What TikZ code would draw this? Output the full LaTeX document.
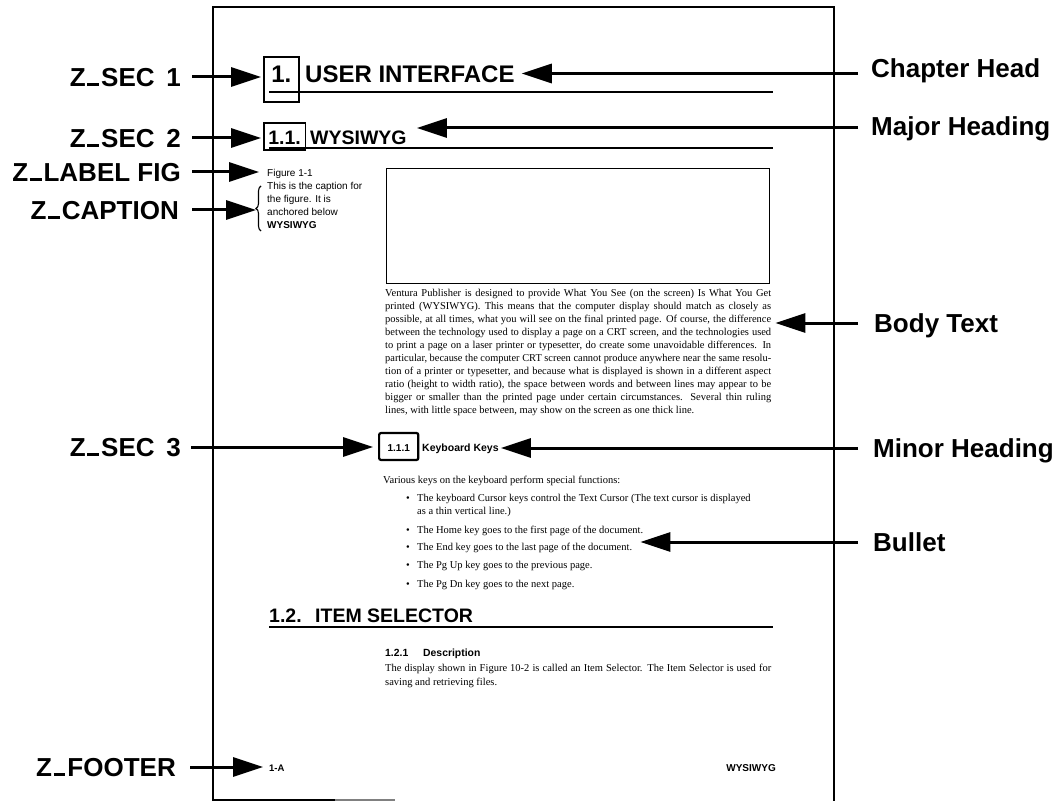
\documentclass[tikz,border=0pt]{standalone}
\usepackage{fontspec}
\usepackage{graphicx}
\setmainfont{Liberation Serif}
\newfontfamily\hv{Liberation Sans}
\usetikzlibrary{arrows.meta,decorations.pathreplacing}

% font size in points with matching leading
\newcommand\fsz[1]{\fontsize{#1pt}{#1pt}\selectfont}
% low dash used in the tag names
\newcommand\zus{\kern0.06em\rule{0.45em}{0.11em}\kern0.08em}
% justified line of fixed width; squeezed if too long
\newcommand\fitline[2][386pt]{\setbox0\hbox{#2}%
  \ifdim\wd0>#1\relax\resizebox{#1}{\height}{\box0}\else\makebox[#1][s]{#2}\fi}

\tikzset{
  lbl/.style={font=\hv\bfseries\fsz{26}, inner sep=0pt, text height=18.6pt, text depth=0pt},
  callout/.style={line width=3pt, -{Triangle[length=30pt,width=19pt]}},
  rulel/.style={line width=2.4pt},
  frameline/.style={line width=2.2pt},
  hd/.style={inner sep=0pt, anchor=base west},
  numbox/.style={draw, line width=1.6pt, inner ysep=0pt, anchor=base west},
  bodytx/.style={font=\fsz{10.5}, inner sep=0pt, anchor=base west},
  captx/.style={font=\hv\fsz{10}, inner sep=0pt, anchor=base west},
}

\begin{document}
\begin{tikzpicture}[x=1pt,y=-1pt]
\useasboundingbox (0,0) rectangle (1060,802);
\fill[white] (0,0) rectangle (1060,802);

% page frame
\draw[frameline] (213,801) -- (213,7) -- (834,7) -- (834,801);
\draw[line width=1.8pt] (213,800) -- (335,800);
\draw[line width=1.4pt, gray] (335,800) -- (395,800);

% tag names on the left
\node[lbl, anchor=east] (lz1) at (181,77) {Z\zus SEC\hspace{0.45em}1};
\node[lbl, anchor=east] (lz2) at (181,138) {Z\zus SEC\hspace{0.45em}2};
\node[lbl, anchor=east] (lfig) at (181,172) {Z\zus LABEL FIG};
\node[lbl, anchor=east] (lcap) at (179,210) {Z\zus CAPTION};
\node[lbl, anchor=east] (lz3) at (181,447) {Z\zus SEC\hspace{0.45em}3};
\node[lbl, anchor=east] (lfoot) at (176,767) {Z\zus FOOTER};

% style names on the right
\node[lbl, anchor=west] (rch) at (871,68) {Chapter Head};
\node[lbl, anchor=west] (rmaj) at (871,126) {Major Heading};
\node[lbl, anchor=west] (rbody) at (874,323) {Body Text};
\node[lbl, anchor=west] (rmin) at (873,448) {Minor Heading};
\node[lbl, anchor=west] (rbul) at (873,542) {Bullet};

% chapter head
\node[numbox, font=\hv\bfseries\fsz{24}, inner xsep=7.5pt, text height=26pt, text depth=19pt] (n1) at (263,83) {1.};
\node[hd, font=\hv\bfseries\fsz{24}] (ui) at (305,83) {USER INTERFACE};
\draw[rulel] (269,92) -- (773,92);

% major heading
\node[numbox, font=\hv\bfseries\fsz{19.5}, inner xsep=4.5pt, text height=22pt, text depth=5pt] (n11) at (263,145) {1.1.};
\node[hd, font=\hv\bfseries\fsz{19.5}] (wys) at (310,145) {WYSIWYG};
\draw[rulel] (269,148) -- (773,148);

% figure label and caption
\node[captx] (figlab) at (267,177) {Figure 1-1};
\node[captx] (cap1) at (267,190) {This is the caption for};
\node[captx] (cap2) at (267,203) {the figure. It is};
\node[captx] (cap3) at (267,216) {anchored below};
\node[captx, font=\hv\bfseries\fsz{10}] (cap4) at (267,229) {WYSIWYG};
\draw[decorate, decoration={brace, amplitude=5pt}, line width=1.1pt] (261,231) -- (261,186);
\coordinate (bracetip) at (256,208);

% figure frame
\node[draw, line width=1.3pt, minimum width=383pt, minimum height=115pt, anchor=north west, inner sep=0pt] (fig) at (386,168) {};

% body text
\foreach \bline [count=\i] in {
  {Ventura Publisher is designed to provide What You See (on the screen) Is What You Get},
  {printed (WYSIWYG).  This means that the computer display should match as closely as},
  {possible, at all times, what you will see on the final printed page.  Of course, the difference},
  {between the technology used to display a page on a CRT screen, and the technologies used},
  {to print a page on a laser printer or typesetter, do create some unavoidable differences.  In},
  {particular, because the computer CRT screen cannot produce anywhere near the same resolu-},
  {tion of a printer or typesetter, and because what is displayed is shown in a different aspect},
  {ratio (height to width ratio), the space between words and between lines may appear to be},
  {bigger or smaller than the printed page under certain circumstances.  Several thin ruling}}
  \node[bodytx] (body\i) at (385,{296.5+13*(\i-1)}) {\fitline{\bline}};
\node[bodytx] (body10) at (385,413.5) {lines, with little space between, may show on the screen as one thick line.};

% minor heading
\node[numbox, line width=2.2pt, rounded corners=2pt, font=\hv\bfseries\fsz{10}, inner xsep=8.5pt, text height=18pt, text depth=9pt] (n111) at (378,451) {1.1.1};
\node[hd, font=\hv\bfseries\fsz{10.5}] (kk) at (422,451) {Keyboard Keys};

% list
\node[bodytx] (various) at (383,483) {Various keys on the keyboard perform special functions:};
\node[bodytx] (d1) at (406,501) {\textbullet};
\node[bodytx] (i1) at (417,501) {The keyboard Cursor keys control the Text Cursor (The text cursor is displayed};
\node[bodytx] (i1b) at (417,514) {as a thin vertical line.)};
\node[bodytx] (d2) at (406,533) {\textbullet};
\node[bodytx] (i2) at (417,533) {The Home key goes to the first page of the document.};
\node[bodytx] (d3) at (406,550) {\textbullet};
\node[bodytx] (i3) at (417,550) {The End key goes to the last page of the document.};
\node[bodytx] (d4) at (406,568) {\textbullet};
\node[bodytx] (i4) at (417,568) {The Pg Up key goes to the previous page.};
\node[bodytx] (d5) at (406,587) {\textbullet};
\node[bodytx] (i5) at (417,587) {The Pg Dn key goes to the next page.};

% second major heading
\node[hd, font=\hv\bfseries\fsz{19.5}] (n12) at (269,622) {1.2.};
\node[hd, font=\hv\bfseries\fsz{19.5}] (isel) at (315,622) {ITEM SELECTOR};
\draw[rulel] (269,627) -- (773,627);

\node[hd, font=\hv\bfseries\fsz{10.4}] (n121) at (385,656) {1.2.1};
\node[hd, font=\hv\bfseries\fsz{10.4}] (desc) at (423,656) {Description};
\node[bodytx] (disp1) at (385,671) {\fitline{The display shown in Figure 10-2 is called an Item Selector.  The Item Selector is used for}};
\node[bodytx] (disp2) at (385,685) {saving and retrieving files.};

% footer
\node[hd, font=\hv\bfseries\fsz{9.5}] (pgno) at (269,771) {1-A};
\node[hd, anchor=base east, font=\hv\bfseries\fsz{10}] (ftitle) at (776,771) {WYSIWYG};

% arrows from the tag names
\draw[callout, shorten >=2pt] ([xshift=11pt]lz1.east) -- (lz1.east -| n1.west);
\draw[callout, shorten >=2pt] ([xshift=11pt]lz2.east) -- (lz2.east -| n11.west);
\draw[callout, shorten >=8pt] ([xshift=11pt]lfig.east) -- (lfig.east -| figlab.west);
\draw[callout] ([xshift=13pt]lcap.east) -- (lcap.east -| bracetip);
\draw[callout, shorten >=5pt] ([xshift=10pt]lz3.east) -- (lz3.east -| n111.west);
\draw[callout, shorten >=6pt] ([xshift=14pt]lfoot.east) -- (lfoot.east -| pgno.west);

% arrows from the style names
\coordinate (chy) at ([yshift=-5.5pt]rch.west);
\draw[callout, shorten >=7pt] ([xshift=-13pt]chy) -- (chy -| ui.east);
\coordinate (mjy) at ([yshift=-2pt]rmaj.west);
\draw[callout, shorten >=10pt] ([xshift=-13pt]mjy) -- (mjy -| wys.east);
\draw[callout, shorten >=4pt] ([xshift=-16pt]rbody.west) -- (rbody.west -| body3.east);
\draw[callout, shorten >=2pt] ([xshift=-15pt]rmin.west) -- (rmin.west -| kk.east);
\draw[callout, shorten >=8pt] ([xshift=-15pt]rbul.west) -- (rbul.west -| i3.east);
\end{tikzpicture}
\end{document}
